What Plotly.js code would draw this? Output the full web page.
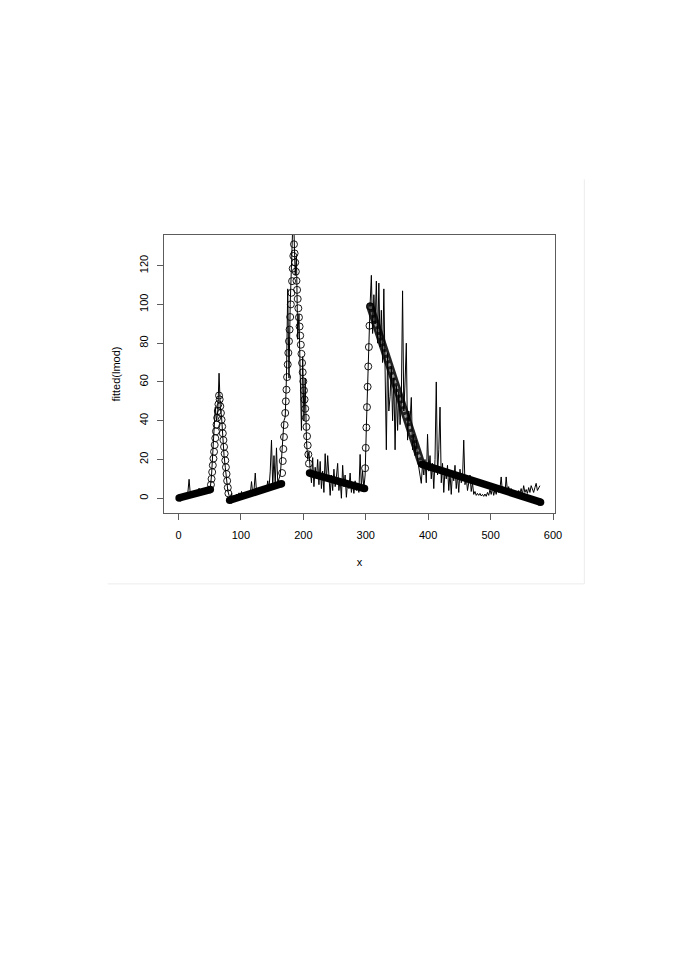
<!DOCTYPE html>
<html>
<head>
<meta charset="utf-8">
<script src="https://cdn.plot.ly/plotly-3.0.1.min.js"></script>
<style>
  body { margin: 0; background: #fff; }
  #chart { width: 692px; height: 979px; }
</style>
</head>
<body>
<div id="chart"></div>
<script>
// raw observations, read every 2nd x from x = 1 to 579
const rawStart = 1;
const rawStep = 2;
const rawY = [
    0.5, 1.5, 0.3, 2.2, 1.0, 2.6, 1.2, 2.8, 9.8, 2.0,
    1.5, 3.0, 2.0, 2.4, 1.6, 3.6, 5.2, 2.4, 3.5, 2.6,
    4.2, 3.0, 4.8, 3.5, 4.6, 5.5, 12, 22, 37, 47,
    40, 45, 64.5, 47, 42, 30, 22, 16, 9, 4,
    1.5, 0.5, 2.5, -0.5, 1.5, 0.2, 2.2, 1.0, 2.8, 1.2,
    3.5, 1.0, 2.6, 0.8, 3.0, 1.5, 3.4, 2.0, 8.6, 2.5,
    4.0, 13, 3.2, 5.0, 2.4, 4.6, 3.0, 5.5, 3.6, 6.0,
    4.2, 9, 5.0, 14, 30, 6.0, 22, 7, 26, 8,
    10, 12, 20, 30, 40, 42, 63, 108, 62, 100,
    120, 140, 138, 115, 125, 82, 95, 62, 35, 73,
    40, 62, 30, 20, 24, 15, 8, 21, 6, 16,
    10, 20, 7, 19, 5, 14, 3, 23, 9, 22,
    8, 1.5, 12, 4, 15, 6, 11, 18, 4, 10,
    0, 17, 6, 12, 0.5, 9, 5, 13, 3, 8,
    2.5, 9, 4, 7, 3, 22.6, 6, 14, 5, 12,
    37, 58, 88, 100, 115, 85, 105, 90, 112, 80,
    111, 78, 97, 70, 108, 60, 25, 75, 45, 52.6,
    68, 40, 62, 25, 58, 35, 55, 38, 50, 107,
    45, 60, 80, 30, 45, 40, 52, 25, 33, 22,
    30, 20, 15, 10, 7.7, 18, 12, 20, 8, 33,
    14, 22, 10, 18, 5, 20, 60, 12, 25, 47,
    8, 18, 3, 15, 10, 17, 4, 13, 2, 14,
    9, 17, 5, 12, 3, 15, 8, 10, 30, 7,
    11, 4, 9, 12, 3.5, 8, 2, 3.5, 1.5, 2.5,
    1.5, 2.5, 1.2, 2.0, 1.0, 2.2, 1.0, 3.0, 1.5, 4.5,
    2, 5.5, 1.5, 4.5, 2, 6, 3, 5, 11, 3,
    5.5, 2.5, 11, 3.5, 6, 2.5, 5, 3, 4, 2.5,
    3.5, 2, 4, 2.5, 5, 2, 6.5, 3, 4.5, 2.5,
    5.5, 3, 6.5, 4, 3, 5.5, 7.7, 4, 5.5, 6.5
];

// fitted values around the three peaks (one circle per x)
const peak1Start = 52;
const peak1Fit = [
    7, 10, 13.5, 17, 20.5, 24, 27.5, 31, 34.5, 38, 41.5, 45, 48.5, 53,
    51, 47.5, 44, 40.5, 37, 33.5, 30, 26.5, 23, 19.5, 16, 12.5, 9, 5.5, 2.5
];
const peak2Start = 166;
const peak2Fit = [
    13, 19.2, 25.4, 31.6, 37.8, 44, 50, 56, 62.5, 69, 75, 81, 87, 93.5, 100,
    106, 112, 118.5, 125, 131,
    126.3, 121.6, 116.9, 112.2, 107.5, 102.8, 98, 93.3, 88.6, 83.9, 79.2, 74.5,
    69.8, 65, 60.3, 55.6, 50.9, 46.2, 41.5, 36.8, 32, 27.3, 22.6, 17.9
];
const peak3Start = 299;
const peak3Fit = [15.5, 26, 36.5, 47, 57.5, 68, 78, 89, 99];

// straight pieces of the fit, where the circles merge into a band
const segStartX = [1, 82, 210, 307, 390];
const segEndX = [51, 165, 298, 389, 580];
const segStartY = [0.2, -1, 13, 99, 17.5];
const segEndY = [4.5, 7.5, 5, 18, -2];

const traces = [];

segStartX.forEach((x0, i) => {
    const steep = i === 3;
    traces.push({
        x: [x0, segEndX[i]],
        y: [segStartY[i], segEndY[i]],
        mode: 'lines+markers',
        type: 'scatter',
        line: { color: steep ? '#222' : '#000', width: steep ? 8 : 7.5 },
        marker: { color: steep ? '#222' : '#000', size: 7.5 },
        hoverinfo: 'skip'
    });
    // the steep one shows the circle texture through the band
    if (steep) {
        traces.push({
            x: [x0, segEndX[i]],
            y: [segStartY[i], segEndY[i]],
            mode: 'lines',
            type: 'scatter',
            line: { color: '#9a9a9a', width: 3, dash: 'dot' },
            hoverinfo: 'skip'
        });
    }
});

[[peak1Start, peak1Fit], [peak2Start, peak2Fit], [peak3Start, peak3Fit]].forEach(p => {
    traces.push({
        x0: p[0],
        dx: 1,
        y: p[1],
        mode: 'markers',
        type: 'scatter',
        marker: {
            symbol: 'circle-open',
            size: 7,
            color: '#000',
            line: { color: '#000', width: 0.9 }
        },
        hoverinfo: 'skip'
    });
});

traces.push({
    x0: rawStart,
    dx: rawStep,
    y: rawY,
    mode: 'lines',
    type: 'scatter',
    line: { color: '#000', width: 1 },
    hoverinfo: 'skip'
});

const axisFont = { family: 'Liberation Sans, Arial, sans-serif', size: 11, color: '#000' };

const layout = {
    width: 692,
    height: 979,
    showlegend: false,
    paper_bgcolor: '#fff',
    plot_bgcolor: '#fff',
    margin: { l: 164, r: 137, t: 235, b: 466 },
    font: axisFont,
    xaxis: {
        range: [-23.2, 603.2],
        tickvals: [0, 100, 200, 300, 400, 500, 600],
        ticks: 'outside',
        ticklen: 6,
        tickcolor: '#333',
        tickwidth: 0.8,
        ticklabelstandoff: 6,
        showgrid: false,
        zeroline: false,
        showline: true,
        mirror: true,
        linecolor: '#333',
        linewidth: 0.8,
        tickfont: axisFont,
        title: { text: 'x', font: axisFont, standoff: 18 }
    },
    yaxis: {
        range: [-7.6, 135.8],
        tickvals: [0, 20, 40, 60, 80, 100, 120],
        tickangle: -90,
        ticks: 'outside',
        ticklen: 6,
        tickcolor: '#333',
        tickwidth: 0.8,
        ticklabelstandoff: 5,
        showgrid: false,
        zeroline: false,
        showline: true,
        mirror: true,
        linecolor: '#333',
        linewidth: 0.8,
        tickfont: axisFont,
        title: { text: 'fitted(lmod)', font: axisFont, standoff: 14 }
    },
    shapes: [
        // faint edge of the embedded figure
        { type: 'line', xref: 'paper', yref: 'paper', x0: 1.075, x1: 1.075, y0: 1.2, y1: -0.255,
          line: { color: '#ececec', width: 1 } },
        { type: 'line', xref: 'paper', yref: 'paper', x0: -0.144, x1: 1.075, y0: -0.255, y1: -0.255,
          line: { color: '#ececec', width: 1 } }
    ]
};

Plotly.newPlot('chart', traces, layout, { displayModeBar: false, staticPlot: true });
</script>
</body>
</html>
